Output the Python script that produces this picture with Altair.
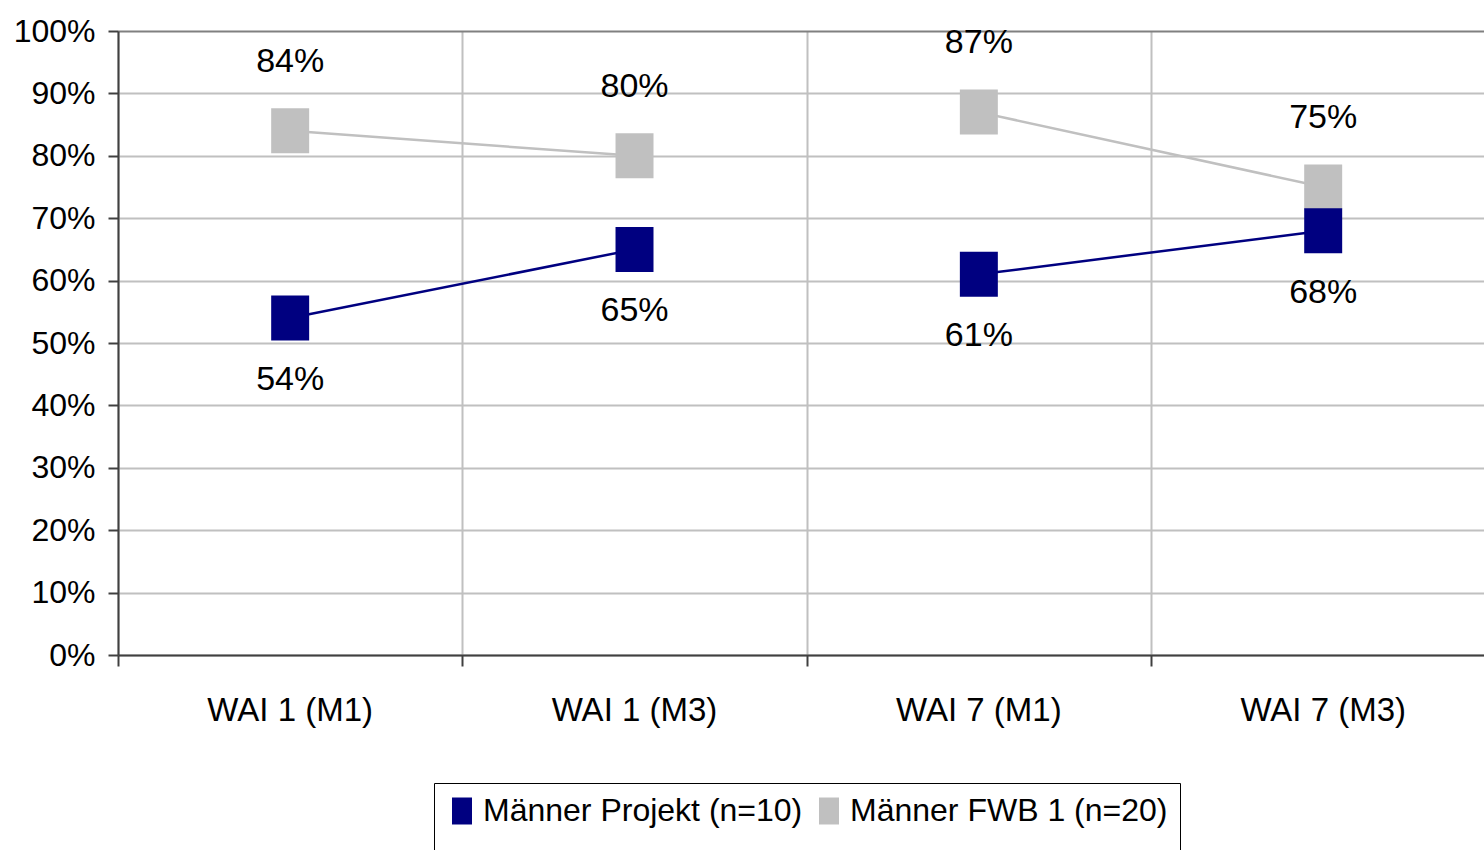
import altair as alt
import pandas as pd

# Chart data
categories = ["WAI 1 (M1)", "WAI 1 (M3)", "WAI 7 (M1)", "WAI 7 (M3)"]
groups = ["WAI 1", "WAI 1", "WAI 7", "WAI 7"]
series_names = ["Männer FWB 1 (n=20)", "Männer Projekt (n=10)"]
fwb = [84, 80, 87, 75]
projekt = [54, 65, 61, 68]
colors = ["#c0c0c0", "#000080"]

FONT = "Liberation Sans, Arial"

rows = []
for s, vals in zip(series_names, [fwb, projekt]):
    for i, (cat, grp, v) in enumerate(zip(categories, groups, vals)):
        rows.append({"series": s, "category": cat, "group": grp,
                     "pos": i + 0.5, "value": v / 100.0,
                     "label": f"{v}%"})
df = pd.DataFrame(rows)
cats_df = pd.DataFrame({"category": categories,
                        "pos": [i + 0.5 for i in range(len(categories))]})

x_scale = alt.Scale(domain=[0, 3.967], nice=False, zero=False)
y_scale = alt.Scale(domain=[0, 1], nice=False)

color = alt.Color(
    "series:N",
    scale=alt.Scale(domain=series_names[::-1], range=colors[::-1]),
    legend=alt.Legend(
        title=" ", titleOrient="bottom", titleFontSize=14, titlePadding=4,
        orient="none", direction="horizontal",
        legendX=316, legendY=752,
        strokeColor="#000000", padding=12, fillColor="white",
        symbolType="M-0.74,-1H0.74V1H-0.74Z", symbolSize=729,
        symbolStrokeWidth=0, symbolOpacity=1,
        labelFont=FONT, labelFontSize=32, labelColor="#000000",
        labelOffset=5, columnPadding=10, labelLimit=600,
    ),
)

x_enc = alt.X("pos:Q", scale=x_scale,
              axis=alt.Axis(values=[0, 1, 2, 3], labels=False, title=None,
                            grid=True, gridColor="#c0c0c0", gridWidth=2,
                            domainColor="#404040", domainWidth=2,
                            tickColor="#404040", tickWidth=2, tickSize=11))
y_enc = alt.Y("value:Q", scale=y_scale,
              axis=alt.Axis(values=[i / 10 for i in range(11)], format=".0%",
                            title=None, grid=True,
                            gridColor={"condition": {"test": "datum.value == 1",
                                                     "value": "#808080"},
                                       "value": "#c0c0c0"},
                            gridWidth=2,
                            domainColor="#404040", domainWidth=2,
                            tickColor="#404040", tickWidth=2, tickSize=10,
                            labelFont=FONT, labelFontSize=32,
                            labelColor="#000000", labelPadding=13))

base = alt.Chart(df)

lines = base.mark_line(strokeWidth=2.5).encode(
    x=x_enc, y=y_enc,
    color=color,
    detail=["series:N", "group:N"],
    order="pos:Q",
)

points = base.mark_point(
    shape="M-0.844,-1H0.844V1H-0.844Z", filled=True, size=2025,
    opacity=1, strokeWidth=0,
).encode(x="pos:Q", y="value:Q", color=color)

labels_top = base.transform_filter(
    alt.datum.series == series_names[0]
).mark_text(font=FONT, fontSize=34, dy=-69, baseline="middle",
            color="#000000").encode(x="pos:Q", y="value:Q", text="label:N")

labels_bottom = base.transform_filter(
    alt.datum.series == series_names[1]
).mark_text(font=FONT, fontSize=34, dy=62, baseline="middle",
            color="#000000").encode(x="pos:Q", y="value:Q", text="label:N")

cat_labels = alt.Chart(cats_df).mark_text(
    font=FONT, fontSize=33, baseline="middle", color="#000000"
).encode(x="pos:Q", y=alt.value(680), text="category:N")

chart = alt.layer(lines, points, labels_top, labels_bottom, cat_labels).properties(
    width=1366, height=624,
    autosize=alt.AutoSizeParams(type="none"),
    padding={"left": 118, "top": 31, "right": 0, "bottom": 195},
    background="white",
).configure_view(stroke=None)

chart.save("out.html", embed_options={"renderer": "svg", "actions": False})
